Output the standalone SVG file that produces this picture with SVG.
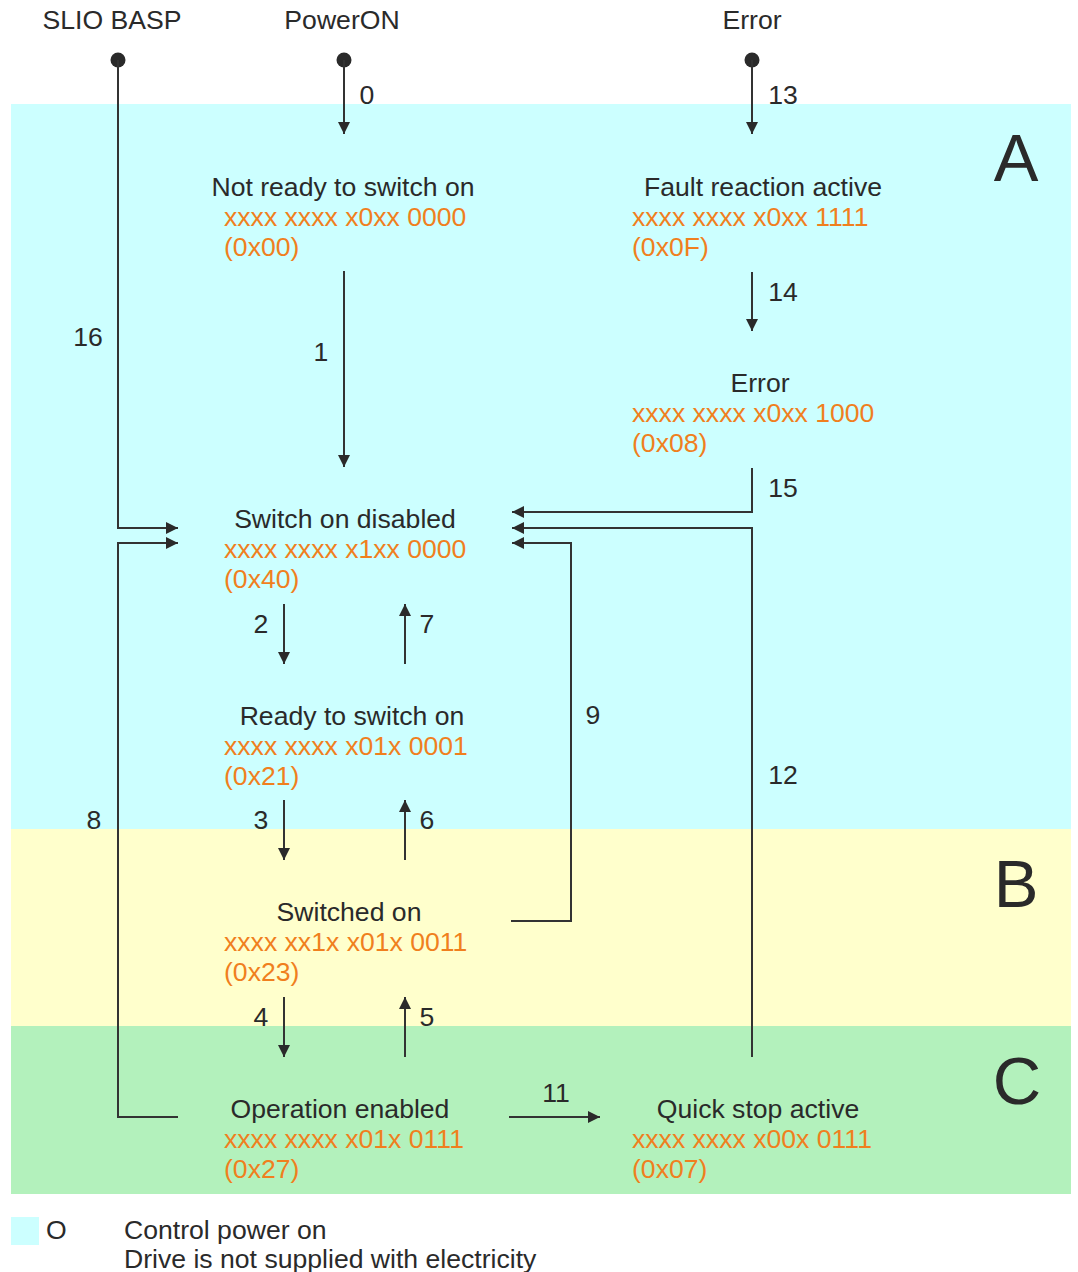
<svg xmlns="http://www.w3.org/2000/svg" width="1078" height="1272" viewBox="0 0 1078 1272">
<style>
text{font-family:"Liberation Sans",Arial,sans-serif;font-size:26.6px;fill:#2a2a2a}
.t{text-anchor:middle}
.o{fill:#f07f1e}
.n{text-anchor:middle}
.big{font-size:67px;text-anchor:middle}
.ln{fill:none;stroke:#333;stroke-width:2}
</style>
<defs>
<marker id="ah" viewBox="0 0 12 12" refX="12" refY="6" markerWidth="12" markerHeight="12" markerUnits="userSpaceOnUse" orient="auto"><path d="M0,0 L12,6 L0,12 z" fill="#2a2a2a"/></marker>
</defs>
<rect width="1078" height="1272" fill="#fff"/>
<g id="bands">
<rect x="11" y="104" width="1060" height="725" fill="#ccffff"/>
<rect x="11" y="829" width="1060" height="197" fill="#ffffcc"/>
<rect x="11" y="1026" width="1060" height="168" fill="#b3f1bc"/>
<text class="big" x="1016" y="181">A</text>
<text class="big" x="1016" y="907">B</text>
<text class="big" x="1017" y="1104">C</text>
</g>
<g id="sources">
<text class="t" x="112" y="29">SLIO BASP</text>
<text class="t" x="342" y="29">PowerON</text>
<text class="t" x="752" y="29">Error</text>
<circle cx="118" cy="60" r="7.5" fill="#2a2a2a"/>
<circle cx="344" cy="60" r="7.5" fill="#2a2a2a"/>
<circle cx="752" cy="60" r="7.5" fill="#2a2a2a"/>
</g>
<g id="connectors">
<path class="ln" d="M344,60 V134" marker-end="url(#ah)"/>
<path class="ln" d="M752,60 V134" marker-end="url(#ah)"/>
<path class="ln" d="M344,271 V467" marker-end="url(#ah)"/>
<path class="ln" d="M752,272 V331" marker-end="url(#ah)"/>
<path class="ln" d="M752,468 V512 H512" marker-end="url(#ah)"/>
<path class="ln" d="M752,1057 V528 H512" marker-end="url(#ah)"/>
<path class="ln" d="M511,921 H571 V543 H512" marker-end="url(#ah)"/>
<path class="ln" d="M118,60 V528 H178" marker-end="url(#ah)"/>
<path class="ln" d="M178,1117 H118 V543 H178" marker-end="url(#ah)"/>
<path class="ln" d="M284,604 V664" marker-end="url(#ah)"/>
<path class="ln" d="M405,664 V604" marker-end="url(#ah)"/>
<path class="ln" d="M284,800 V860" marker-end="url(#ah)"/>
<path class="ln" d="M405,860 V800" marker-end="url(#ah)"/>
<path class="ln" d="M284,997 V1057" marker-end="url(#ah)"/>
<path class="ln" d="M405,1057 V997" marker-end="url(#ah)"/>
<path class="ln" d="M509,1117 H600" marker-end="url(#ah)"/>
<text class="n" x="367" y="104">0</text>
<text class="n" x="783" y="104">13</text>
<text class="n" x="321" y="361">1</text>
<text class="n" x="783" y="301">14</text>
<text class="n" x="783" y="497">15</text>
<text class="n" x="88" y="346">16</text>
<text class="n" x="261" y="633">2</text>
<text class="n" x="427" y="633">7</text>
<text class="n" x="593" y="724">9</text>
<text class="n" x="783" y="784">12</text>
<text class="n" x="94" y="829">8</text>
<text class="n" x="261" y="829">3</text>
<text class="n" x="427" y="829">6</text>
<text class="n" x="261" y="1026">4</text>
<text class="n" x="427" y="1026">5</text>
<text class="n" x="556" y="1102">11</text>
</g>
<g id="not-ready">
<text class="t" x="343" y="196">Not ready to switch on</text>
<text class="o" x="224" y="226">xxxx xxxx x0xx 0000</text>
<text class="o" x="224" y="256">(0x00)</text>
</g>
<g id="fault-reaction">
<text class="t" x="763" y="196">Fault reaction active</text>
<text class="o" x="632" y="226">xxxx xxxx x0xx 1111</text>
<text class="o" x="632" y="256">(0x0F)</text>
</g>
<g id="error">
<text class="t" x="760" y="392">Error</text>
<text class="o" x="632" y="422">xxxx xxxx x0xx 1000</text>
<text class="o" x="632" y="452">(0x08)</text>
</g>
<g id="switch-on-disabled">
<text class="t" x="345" y="528">Switch on disabled</text>
<text class="o" x="224" y="558">xxxx xxxx x1xx 0000</text>
<text class="o" x="224" y="588">(0x40)</text>
</g>
<g id="ready">
<text class="t" x="352" y="725">Ready to switch on</text>
<text class="o" x="224" y="755">xxxx xxxx x01x 0001</text>
<text class="o" x="224" y="785">(0x21)</text>
</g>
<g id="switched-on">
<text class="t" x="349" y="921">Switched on</text>
<text class="o" x="224" y="951">xxxx xx1x x01x 0011</text>
<text class="o" x="224" y="981">(0x23)</text>
</g>
<g id="operation-enabled">
<text class="t" x="340" y="1118">Operation enabled</text>
<text class="o" x="224" y="1148">xxxx xxxx x01x 0111</text>
<text class="o" x="224" y="1178">(0x27)</text>
</g>
<g id="quick-stop">
<text class="t" x="758" y="1118">Quick stop active</text>
<text class="o" x="632" y="1148">xxxx xxxx x00x 0111</text>
<text class="o" x="632" y="1178">(0x07)</text>
</g>
<g id="legend">
<rect x="11" y="1217" width="28" height="28" fill="#ccffff"/>
<text x="46" y="1239">O</text>
<text x="124" y="1239">Control power on</text>
<text x="124" y="1268">Drive is not supplied with electricity</text>
</g>
</svg>
